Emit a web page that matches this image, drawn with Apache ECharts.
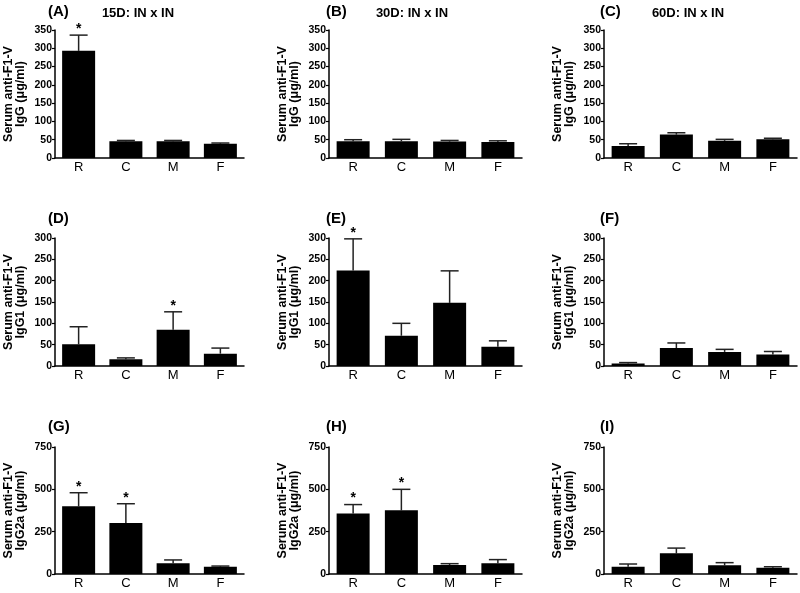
<!DOCTYPE html>
<html>
<head>
<meta charset="utf-8">
<script src="https://cdn.jsdelivr.net/npm/echarts@6/dist/echarts.min.js"></script>
<style>html,body{margin:0;padding:0;background:#fff}#c{width:800px;height:593px}</style>
</head>
<body>
<div id="c"></div>
<script>
const categories = ['R', 'C', 'M', 'F'];
const panelLabels = ['(A)', '(B)', '(C)', '(D)', '(E)', '(F)', '(G)', '(H)', '(I)'];
const columnTitles = ['15D: IN x IN', '30D: IN x IN', '60D: IN x IN'];
const isotypes = ['IgG', 'IgG1', 'IgG2a'];
const rowMax = [350, 300, 750];
const rowInterval = [50, 50, 250];

// means, upper error (SEM) and significance stars for each panel
const meanA = [293, 46, 46, 39];   const errA = [43, 2, 2, 2];     const starA = [1, 0, 0, 0];
const meanB = [46, 46, 45, 44];    const errB = [4, 5, 3, 3];      const starB = [0, 0, 0, 0];
const meanC = [33, 64, 47, 51];    const errC = [6, 5, 4, 3];      const starC = [0, 0, 0, 0];
const meanD = [51, 16, 85, 29];    const errD = [41, 3, 42, 13];   const starD = [0, 0, 1, 0];
const meanE = [224, 71, 148, 45];  const errE = [74, 29, 75, 14];  const starE = [1, 0, 0, 0];
const meanF = [6, 42, 33, 27];     const errF = [2, 12, 6, 7];     const starF = [0, 0, 0, 0];
const meanG = [400, 301, 63, 43];  const errG = [80, 114, 20, 4];  const starG = [1, 1, 0, 0];
const meanH = [358, 376, 53, 63];  const errH = [52, 124, 8, 22];  const starH = [1, 1, 0, 0];
const meanI = [43, 122, 51, 37];   const errI = [16, 31, 16, 6];   const starI = [0, 0, 0, 0];

const panels = [
  [meanA, errA, starA], [meanB, errB, starB], [meanC, errC, starC],
  [meanD, errD, starD], [meanE, errE, starE], [meanF, errF, starF],
  [meanG, errG, starG], [meanH, errH, starH], [meanI, errI, starI]
];

const FONT = "'Liberation Sans', Arial, Helvetica, sans-serif";
const colLeft = [55, 329, 604];
const colWidth = [189, 193, 193];
const rowTop = [30, 238, 447];
const rowHeight = [128, 128, 127];

const grids = [], xAxes = [], yAxes = [], series = [], graphics = [];

panels.forEach((p, k) => {
  const row = Math.floor(k / 3), col = k % 3;
  grids.push({ left: colLeft[col], top: rowTop[row], width: colWidth[col], height: rowHeight[row] });
  xAxes.push({
    type: 'category', gridIndex: k, data: categories,
    axisLine: { lineStyle: { color: '#000', width: 1.5 } },
    axisTick: { show: false },
    axisLabel: { color: '#000', fontSize: 13, fontFamily: FONT, margin: 3 }
  });
  yAxes.push({
    type: 'value', gridIndex: k, min: 0, max: rowMax[row], interval: rowInterval[row],
    name: 'Serum anti-F1-V\n' + isotypes[row] + ' (μg/ml)',
    nameLocation: 'middle', nameGap: 28,
    nameTextStyle: { color: '#000', fontSize: 12.5, fontWeight: 'bold', fontFamily: FONT, lineHeight: 12 },
    axisLine: { show: true, lineStyle: { color: '#000', width: 1.5 } },
    axisTick: { show: true, length: 3, lineStyle: { color: '#000', width: 1.2 } },
    axisLabel: { color: '#000', fontSize: 10.5, fontWeight: 'bold', fontFamily: FONT, margin: 3 },
    splitLine: { show: false }
  });
  const [mean, err, star] = p;
  series.push({
    type: 'bar', xAxisIndex: k, yAxisIndex: k, data: mean, barWidth: 33,
    itemStyle: { color: '#000' }, z: 2
  });
  series.push({
    type: 'custom', xAxisIndex: k, yAxisIndex: k, z: 1,
    data: mean.map((m, i) => [i, m, err[i], star[i]]),
    encode: { x: 0, y: 1 },
    renderItem: function (params, api) {
      const i = api.value(0), m = api.value(1), e = api.value(2), s = api.value(3);
      const base = api.coord([i, m]);
      const top = api.coord([i, m + e]);
      const children = [
        { type: 'line', shape: { x1: base[0], y1: base[1], x2: top[0], y2: top[1] }, style: { stroke: '#222', lineWidth: 1.5 } },
        { type: 'line', shape: { x1: top[0] - 9, y1: top[1], x2: top[0] + 9, y2: top[1] }, style: { stroke: '#222', lineWidth: 1.5 } }
      ];
      if (s) {
        children.push({ type: 'text', style: { text: '*', x: top[0], y: top[1] - 6, textAlign: 'center', textVerticalAlign: 'middle', fontSize: 14, fontWeight: 'bold', fontFamily: FONT, fill: '#000' } });
      }
      return { type: 'group', children: children };
    }
  });
  const labelY = [13, 220, 428][row];
  const labelX = [48, 326, 600][col];
  graphics.push({ type: 'text', left: labelX, top: labelY - 9, style: { text: panelLabels[k], fontSize: 15, fontWeight: 'bold', fontFamily: FONT, fill: '#000' } });
});

const titleX = [138, 412, 688];
columnTitles.forEach((t, c) => {
  graphics.push({ type: 'text', x: titleX[c], y: 13, style: { text: t, fontSize: 13, fontWeight: 'bold', fontFamily: FONT, fill: '#000', textAlign: 'center', textVerticalAlign: 'middle' } });
});

const chart = echarts.init(document.getElementById('c'));
chart.setOption({
  animation: false,
  backgroundColor: '#fff',
  grid: grids, xAxis: xAxes, yAxis: yAxes, series: series, graphic: graphics
});
</script>
</body>
</html>
